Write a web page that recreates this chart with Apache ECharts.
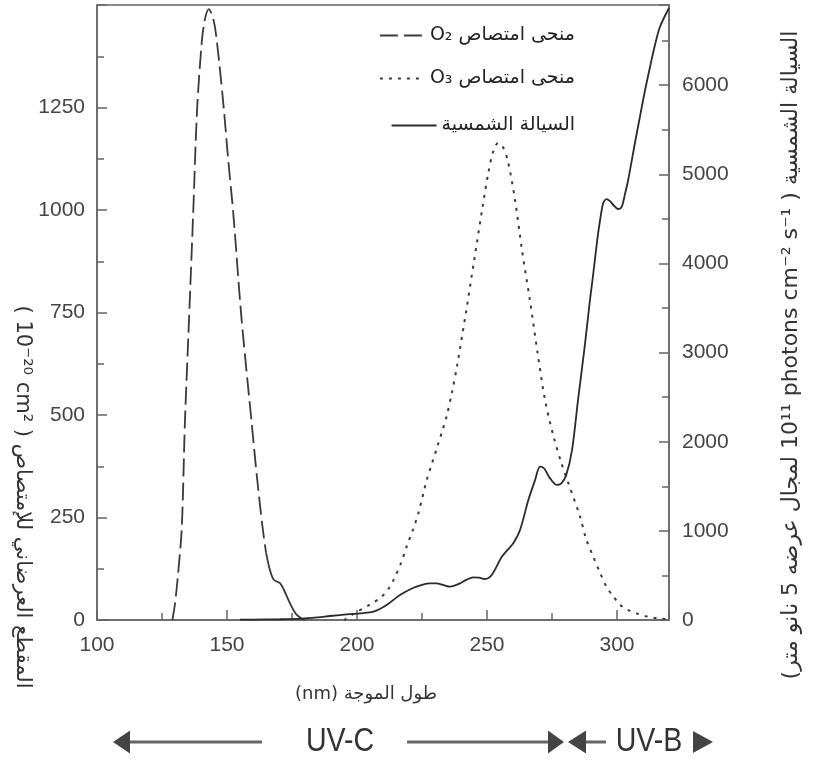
<!DOCTYPE html>
<html>
<head>
<meta charset="utf-8">
<script src="https://cdn.jsdelivr.net/npm/echarts@6/dist/echarts.min.js"></script>
<style>
html, body { margin: 0; padding: 0; background: #fff; }
#main { width: 829px; height: 765px; }
</style>
</head>
<body>
<div id="main"></div>
<script>
// O2 absorption cross-section (10^-20 cm2), dashed part and solid tail
var o2Nm = [129, 130, 131, 132.6, 133.8, 135.4, 137, 138.5, 140.3, 141.5, 143, 144.3, 145.4, 147, 148.8, 150.5, 152.4, 155.6, 159.5, 161.5, 163.6, 165];
var o2Cross = [0, 40, 100, 224, 480, 734, 993, 1245, 1410, 1465, 1490, 1475, 1445, 1360, 1245, 1120, 993, 734, 480, 350, 230, 165];
var o2TailNm = [165, 166.5, 168, 170.4, 172, 174.2, 176.5, 178.8, 180];
var o2TailCross = [165, 122, 98, 90, 72, 41, 15, 3, 0];

// O3 absorption cross-section (10^-20 cm2)
var o3Nm = [195, 200, 205, 208.8, 212, 214, 217, 219.1, 221.5, 223.6, 226.8, 229, 231, 233, 234.6, 236.5, 238.5, 241.9, 245, 248.1, 250.5, 252.5, 254.2, 256, 258, 260.8, 263.5, 266.5, 269.5, 272.3, 275.5, 278.5, 281.5, 285.8, 288, 290.9, 293.5, 296, 298.5, 301.2, 304, 307.6, 312, 316, 320];
var o3Cross = [0, 20, 38, 53, 75, 97, 140, 179, 220, 260, 341, 385, 425, 465, 500, 555, 620, 750, 875, 1000, 1090, 1145, 1163, 1155, 1120, 1024, 900, 780, 650, 537, 450, 385, 330, 252, 200, 154, 115, 81, 58, 37, 25, 16, 8, 4, 2];

// solar flux (10^11 photons cm-2 s-1 per 5 nm)
var solarNm = [155, 160, 170, 178.8, 185, 189.6, 195, 201.2, 206.3, 211.4, 216.5, 221.7, 225, 228, 230.6, 233, 235.8, 237.5, 239.6, 242, 244.7, 247, 249.2, 251.8, 255.7, 258, 260.1, 262.7, 265.9, 268.5, 270.4, 272, 274, 276.8, 278.5, 280.4, 282.7, 285, 287.5, 289.6, 290.9, 292.4, 293.5, 294.7, 296, 297.3, 298.6, 300.5, 301.8, 303, 304.3, 306.9, 308.8, 310.8, 312.7, 314.6, 316.5, 320];
var solarFlux = [5, 5, 8, 15, 30, 45, 60, 75, 93, 168, 280, 362, 395, 411, 411, 395, 374, 385, 411, 450, 479, 475, 460, 505, 710, 790, 860, 1010, 1346, 1571, 1720, 1700, 1600, 1515, 1530, 1620, 1907, 2468, 3050, 3590, 3893, 4263, 4488, 4679, 4723, 4700, 4656, 4611, 4634, 4770, 4937, 5352, 5643, 5946, 6205, 6451, 6653, 6866];

// UV bands on the wavelength axis
var uvBoundary = 280;

var o2Name = 'منحى امتصاص O₂';
var o3Name = 'منحى امتصاص O₃';
var solarName = 'السيالة الشمسية';

var RLI = '\u2067', LRI = '\u2066', PDI = '\u2069';
function rtl(s) { return RLI + s + PDI; }
function ltr(s) { return LRI + s + PDI; }
function zip(a, b) { return a.map(function (x, i) { return [x, b[i]]; }); }
function plain(v) { return String(v); }

var axisColor = '#666';
var labelFont = '"Liberation Sans", Arial, sans-serif';
var arabicFont = '"DejaVu Sans", sans-serif';

function legendAt(name, top) {
    return {
        data: [name],
        right: 249,
        top: top,
        itemWidth: 45,
        itemHeight: 14,
        itemGap: 8,
        itemStyle: { opacity: 0 },
        formatter: function (n) { return rtl(n); },
        textStyle: { fontSize: 19, color: '#222', fontFamily: arabicFont }
    };
}

var myChart = echarts.init(document.getElementById('main'));
var option = {
    animation: false,
    backgroundColor: '#fff',
    grid: {
        left: 97, right: 160, top: 5, bottom: 145,
        show: true, borderColor: axisColor, borderWidth: 1.5, backgroundColor: 'transparent'
    },
    legend: [
        legendAt(o2Name, 21),
        legendAt(o3Name, 64),
        legendAt(solarName, 111)
    ],
    xAxis: {
        type: 'value', min: 100, max: 320, interval: 50,
        axisLine: { lineStyle: { color: axisColor, width: 1.5 } },
        axisTick: { inside: true, length: 10, lineStyle: { color: axisColor, width: 1.5 } },
        minorTick: { show: true, splitNumber: 2, length: 7, lineStyle: { color: axisColor, width: 1.5 } },
        splitLine: { show: false },
        axisLabel: { showMaxLabel: false, formatter: plain, fontSize: 21, color: '#444', fontFamily: labelFont, margin: 15 }
    },
    yAxis: [
        {
            type: 'value', min: 0, max: 1500, interval: 250, position: 'left',
            axisLine: { show: true, lineStyle: { color: axisColor, width: 1.5 } },
            axisTick: { show: true, inside: true, length: 10, lineStyle: { color: axisColor, width: 1.5 } },
            minorTick: { show: true, splitNumber: 2, length: 7, lineStyle: { color: axisColor, width: 1.5 } },
            splitLine: { show: false },
            axisLabel: { showMaxLabel: false, formatter: plain, fontSize: 21, color: '#444', fontFamily: labelFont, margin: 12 }
        },
        {
            type: 'value', min: 0, max: 6900, interval: 1000, position: 'right',
            axisLine: { show: true, lineStyle: { color: axisColor, width: 1.5 } },
            axisTick: { show: true, inside: true, length: 10, lineStyle: { color: axisColor, width: 1.5 } },
            minorTick: { show: true, splitNumber: 2, length: 7, lineStyle: { color: axisColor, width: 1.5 } },
            splitLine: { show: false },
            axisLabel: { showMaxLabel: false, formatter: plain, fontSize: 21, color: '#444', fontFamily: labelFont, margin: 13 }
        }
    ],
    series: [
        {
            name: o2Name, type: 'line', yAxisIndex: 0, symbol: 'none', smooth: 0.3,
            data: zip(o2Nm, o2Cross),
            itemStyle: { color: '#3a3a3a' },
            lineStyle: { color: '#3a3a3a', width: 1.8, type: [18, 6] }
        },
        {
            name: o2Name, type: 'line', yAxisIndex: 0, symbol: 'none', smooth: 0.3,
            data: zip(o2TailNm, o2TailCross),
            itemStyle: { color: '#3a3a3a' },
            lineStyle: { color: '#3a3a3a', width: 1.8 }
        },
        {
            name: o3Name, type: 'line', yAxisIndex: 0, symbol: 'none', smooth: 0.3,
            data: zip(o3Nm, o3Cross),
            itemStyle: { color: '#3a3a3a' },
            lineStyle: { color: '#3a3a3a', width: 2, type: [3, 6] }
        },
        {
            name: solarName, type: 'line', yAxisIndex: 1, symbol: 'none', smooth: 0.3,
            data: zip(solarNm, solarFlux),
            itemStyle: { color: '#2a2a2a' },
            lineStyle: { color: '#2a2a2a', width: 1.8 }
        }
    ]
};
myChart.setOption(option);

function txt(s, x, y, size, font, rot, sx) {
    return {
        type: 'text', x: x, y: y, rotation: rot || 0, scaleX: sx || 1,
        style: {
            text: s, font: size + 'px ' + font, fill: '#333',
            align: 'center', verticalAlign: 'middle',
            textAlign: 'center', textVerticalAlign: 'middle'
        }
    };
}
function seg(x1, x2, y) {
    return { type: 'line', shape: { x1: x1, y1: y, x2: x2, y2: y }, style: { stroke: '#666', lineWidth: 3 } };
}
function head(tip, base, y, h) {
    return { type: 'polygon', shape: { points: [[tip, y], [base, y - h], [base, y + h]] }, style: { fill: '#444' } };
}

var bx = myChart.convertToPixel({ xAxisIndex: 0 }, uvBoundary);
var ay = 742;
myChart.setOption({
    graphic: [
        txt(rtl('طول الموجة (nm)'), 366, 694, 18, arabicFont),
        txt(rtl('المقطع العرضاني للإمتصاص ( ' + ltr('10⁻²⁰ cm²') + ' )'), 22, 497, 21, arabicFont, -Math.PI / 2),
        txt(rtl('السيالة الشمسية ( ' + ltr('10¹¹ photons cm⁻² s⁻¹') + ' لمجال عرضه 5 نانو متر)'), 791, 355, 22, arabicFont, Math.PI / 2),
        head(113, 130, ay, 11.5),
        seg(130, 262, ay),
        txt('UV-C', 340, ay, 34, labelFont, 0, 0.84),
        seg(407, bx - 17, ay),
        head(bx - 1, bx - 17, ay, 11.5),
        head(bx + 3, bx + 21, ay, 11.5),
        seg(bx + 21, bx + 41, ay),
        txt('UV-B', bx + 84, ay, 34, labelFont, 0, 0.84),
        head(bx + 148, bx + 128, ay, 11)
    ]
});

window.addEventListener('resize', function () {
    myChart.resize();
});
</script>
</body>
</html>
